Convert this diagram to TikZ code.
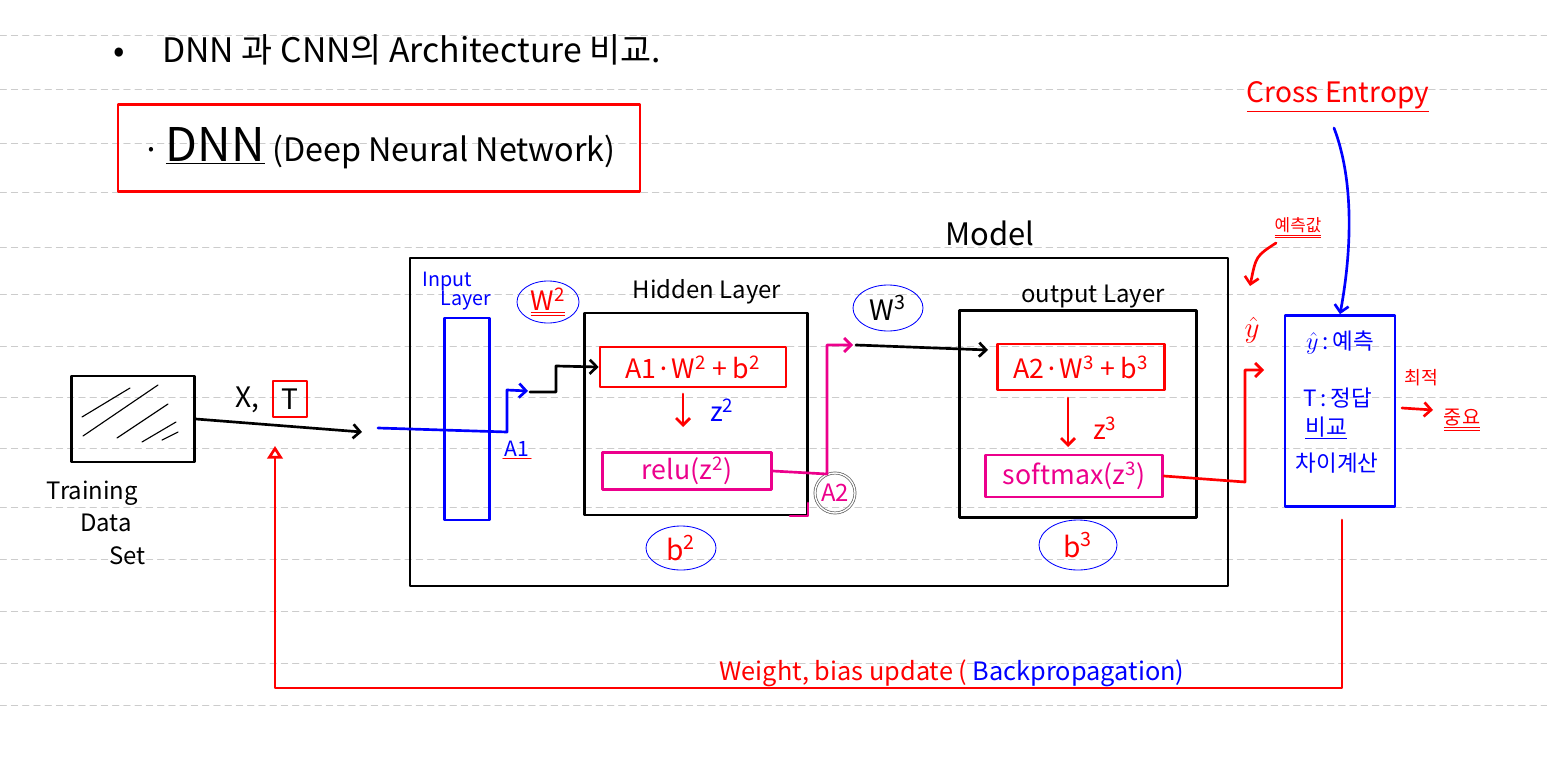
\documentclass[tikz,border=0pt]{standalone}
\usepackage{fontspec}
\setmainfont{Noto Sans CJK KR}
\usetikzlibrary{arrows.meta,shapes.geometric}

\newcommand{\pw}[1]{\textsuperscript{#1}}

\begin{document}
\begin{tikzpicture}[x=0.025cm, y=-0.025cm, line cap=round, line join=round,
    >={Straight Barb[length=5pt,width=10pt]},
    pen/.style={line width=1.9pt},
    ruled/.style={gray!40, line width=0.7pt, dash pattern=on 4.5pt off 3.5pt},
    txt/.style={font=\fontsize{#1}{#1}\selectfont, inner sep=1pt},
    layerbox/.style={draw=black, pen, inner sep=0pt},
    redbox/.style={draw=red, pen, inner sep=0pt, text=red},
    pinkbox/.style={draw=magenta, pen, inner sep=0pt, text=magenta},
    oval/.style={ellipse, draw=blue, line width=0.6pt, inner sep=0pt}]

\useasboundingbox (0,0) rectangle (1547,769);

% note paper lines
\foreach \ly in {35,89,143,192,247,294,346,397,448,507,559,611,663,705}
  \draw[ruled] (0,\ly) -- (1547,\ly);

\node[txt=24, anchor=west] (title) at (112,50) {•\hspace{1.1em}DNN 과 CNN의 Architecture 비교.};

\node[redbox, text=black, txt=23, minimum width=13.05cm, minimum height=2.175cm] (head) at (379,148)
  {·\,{\fontsize{33}{33}\selectfont\underline{DNN}} (Deep Neural Network)};

%% training data
\node[layerbox, minimum width=3.075cm, minimum height=2.15cm] (tds) at (133,419) {};
\foreach \a/\b/\c/\d in {82/417/130/388, 83/436/158/385, 117/438/168/404, 142/442/176/422, 162/440/178/432}
  \draw[line width=0.8pt] (\a,\b) -- (\c,\d);
\node[font=\fontsize{17}{23}\selectfont, align=left, anchor=north west] (tdslbl) at (42,476)
  {Training\\\hspace{1.4em}Data\\\hspace{2.6em}Set};

\node[txt=20] (xlbl) at (247,400) {X,};
\node[redbox, text=black, txt=20, minimum width=0.85cm, minimum height=0.9cm] (tlbl) at (290,399) {T};
\coordinate (xtip) at (362,432);
\draw[pen, ->] (tds.east) -- (xtip);

%% model
\node[txt=22] (modellbl) at (990,233) {Model};
\node[layerbox, minimum width=20.45cm, minimum height=8.2cm] (model) at (819,422) {};

% input layer
\node[txt=14, blue, align=left] (inlbl) at (457,291) {Input\\\hspace{0.9em}Layer};
\node[draw=blue, pen, minimum width=1.125cm, minimum height=5.05cm] (inbar) at (467,419) {};
\node[txt=19, oval, text=red, minimum width=1.55cm, minimum height=1.05cm] (w2) at (548,302) {\underline{\underline{W\pw{2}}}};

\coordinate (insrc) at (378,428);
\coordinate (a1low) at (507,432);
\coordinate (a1high) at (507,390);
\coordinate (a1tip) at (528,391);
\draw[blue, pen, ->] (insrc) -- (a1low) -- (a1high) -- (a1tip);
\node[txt=15, blue] (a1lbl) at (517,449) {A1};
\draw[red, line width=1pt] (a1lbl.south west) -- (a1lbl.south east);

\coordinate (a1go) at (530,392);
\coordinate (a1step) at (556,392);
\coordinate (a1up) at (556,366);

% hidden layer
\node[txt=17] (hidlbl) at (707,292) {Hidden Layer};
\node[layerbox, minimum width=5.575cm, minimum height=5.05cm] (hidden) at (696,414) {};
\node[redbox, txt=19, minimum width=4.65cm, minimum height=1cm] (lin2) at (693,367) {A1·W\pw{2} + b\pw{2}};
\node[pinkbox, txt=19, minimum width=4.225cm, minimum height=0.925cm] (act2) at (687,471) {relu(z\pw{2})};
\draw[pen, ->] (a1go) -- (a1step) -- (a1up) -- (lin2.west);

\coordinate (z2top) at (683,394);
\coordinate (z2bot) at (683,427);
\draw[red, pen, ->] (z2top) -- (z2bot);
\node[txt=19, blue] (z2) at (722,410) {z\pw{2}};
\node[txt=20, oval, text=red, minimum width=1.75cm, minimum height=1.1cm] (b2) at (681,548) {b\pw{2}};

\node[txt=17, circle, draw=gray!70!black, double, double distance=1pt, line width=0.5pt,
  text=magenta, minimum size=1cm, inner sep=0pt] (a2) at (835,493) {A2};
\coordinate (a2up) at (827,474);
\coordinate (a2top) at (827,345);
\coordinate (a2out) at (853,345);
\draw[magenta, pen, ->] (act2.east) -- (a2up) -- (a2top) -- (a2out);
\draw[magenta, pen] (790,516) -- (808,516) -- (808,503);

\node[txt=20, oval, minimum width=1.75cm, minimum height=1.15cm] (w3) at (888,308) {W\pw{3}};

% output layer
\node[txt=17] (outlbl) at (1093,297) {output Layer};
\node[layerbox, minimum width=5.925cm, minimum height=5.175cm] (output) at (1078,414) {};
\node[redbox, txt=19, minimum width=4.175cm, minimum height=1.15cm] (lin3) at (1081,367) {A2·W\pw{3} + b\pw{3}};
\node[pinkbox, txt=19, minimum width=4.425cm, minimum height=1.05cm] (act3) at (1074,476) {softmax(z\pw{3})};

\coordinate (w3src) at (856,345);
\coordinate (lin3in) at (988,350);
\draw[pen, ->] (w3src) -- (lin3in);

\coordinate (z3top) at (1068,398);
\coordinate (z3bot) at (1068,447);
\draw[red, pen, ->] (z3top) -- (z3bot);
\node[txt=19, red] (z3) at (1105,428) {z\pw{3}};
\node[txt=20, oval, text=red, minimum width=1.95cm, minimum height=1.25cm] (b3) at (1078,545) {b\pw{3}};

%% loss
\coordinate (yturn) at (1245,482);
\coordinate (yup) at (1245,370);
\coordinate (ytip) at (1264,370);
\draw[red, pen, ->] (act3.east) -- (yturn) -- (yup) -- (ytip);
\node[txt=22, red] (yhat) at (1252,330) {$\hat{y}$};

\node[txt=12, red] (predlbl) at (1298,228) {\underline{\underline{예측값}}};
\coordinate (predsrc) at (1276,243);
\coordinate (predtip) at (1250,286);
\draw[red, pen, ->] (predsrc) .. controls (1256,256) .. (predtip);

\node[txt=20, red] (ce) at (1338,97) {\underline{Cross Entropy}};
\node[draw=blue, pen, minimum width=2.75cm, minimum height=4.775cm] (loss) at (1340,411) {};
\coordinate (cesrc) at (1334,128);
\draw[blue, pen, ->] (cesrc) .. controls (1354,180) and (1352,250) .. (loss.north);

\node[txt=16, blue] (lossy) at (1340,343) {$\hat{y}$\,:\,예측};
\node[txt=16, blue] (losst) at (1338,398) {T\,:\,정답};
\node[txt=16, blue] (lossc) at (1326,428) {\underline{비교}};
\node[txt=16, blue] (lossd) at (1337,463) {차이계산};

\coordinate (optsrc) at (1402,408);
\coordinate (opttip) at (1433,410);
\draw[red, pen, ->] (optsrc) -- (opttip);
\node[txt=13, red] (opt) at (1421,378) {최적};
\node[txt=14, red] (imp) at (1462,420) {\underline{\underline{중요}}};

%% backpropagation
\coordinate (fbtop) at (1342,520);
\coordinate (fbcorner) at (1342,688);
\coordinate (fbtip) at (275,446);
\draw[red, pen, -{Triangle[open, length=9pt, width=11pt]}] (fbtop) -- (fbcorner) -| (fbtip);
\node[txt=18, red] (bplbl) at (952,673) {Weight, bias update ( \textcolor{blue}{Backpropagation)}};

\end{tikzpicture}
\end{document}
